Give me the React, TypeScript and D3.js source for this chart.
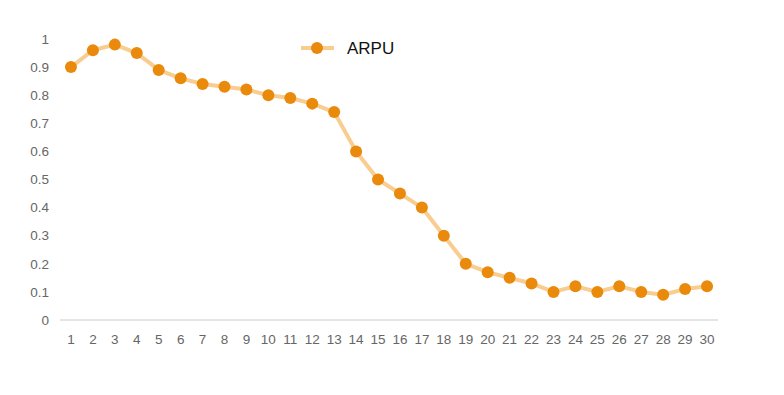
import * as d3 from 'd3';
import React from 'react';

const days = d3.range(1, 31).map(String);
const arpu = [0.9, 0.96, 0.98, 0.95, 0.89, 0.86, 0.84, 0.83, 0.82, 0.8, 0.79, 0.77, 0.74, 0.6, 0.5, 0.45, 0.4, 0.3, 0.2, 0.17, 0.15, 0.13, 0.1, 0.12, 0.1, 0.12, 0.1, 0.09, 0.11, 0.12];
const yTicks = [0, 0.1, 0.2, 0.3, 0.4, 0.5, 0.6, 0.7, 0.8, 0.9, 1];
const seriesName = 'ARPU';

export default function App() {
  const width = 784, height = 395;
  const margin = {top: 39, right: 66, bottom: 75, left: 60};

  const x = d3.scaleBand()
    .domain(days)
    .range([margin.left, width - margin.right]);
  const y = d3.scaleLinear()
    .domain([0, 1])
    .range([height - margin.bottom, margin.top]);

  const line = d3.line<number>()
    .x((d, i) => x(days[i])! + x.bandwidth() / 2)
    .y(d => y(d));

  const font = '"Liberation Sans", Arial, sans-serif';

  return (
    <svg width={width} height={height} style={{position: 'absolute', left: 0, top: 0, background: '#fff'}}>
      {/* y labels */}
      {yTicks.map(t => (
        <text key={t} x={49} y={y(t)} dy="0.35em" textAnchor="end" fontSize={13.5} fill="#666" fontFamily={font}>
          {String(t)}
        </text>
      ))}
      {/* x axis */}
      <line x1={margin.left} x2={width - margin.right} y1={y(0)} y2={y(0)} stroke="#ccc" />
      {days.map(d => (
        <text key={d} x={x(d)! + x.bandwidth() / 2} y={y(0) + 24} textAnchor="middle" fontSize={13.5} fill="#666" fontFamily={font}>
          {d}
        </text>
      ))}
      {/* series */}
      <path d={line(arpu)!} fill="none" stroke="#f8cd8f" strokeWidth={4} strokeLinejoin="round" />
      {arpu.map((v, i) => (
        <circle key={i} cx={x(days[i])! + x.bandwidth() / 2} cy={y(v)} r={6} fill="#ea8a0c" />
      ))}
      {/* legend */}
      <line x1={301} x2={334} y1={48} y2={48} stroke="#f8cd8f" strokeWidth={4} />
      <circle cx={317} cy={48} r={6} fill="#ea8a0c" />
      <text x={347} y={48} dy="0.35em" fontSize={17} fill="#111" fontFamily={font}>{seriesName}</text>
    </svg>
  );
}
